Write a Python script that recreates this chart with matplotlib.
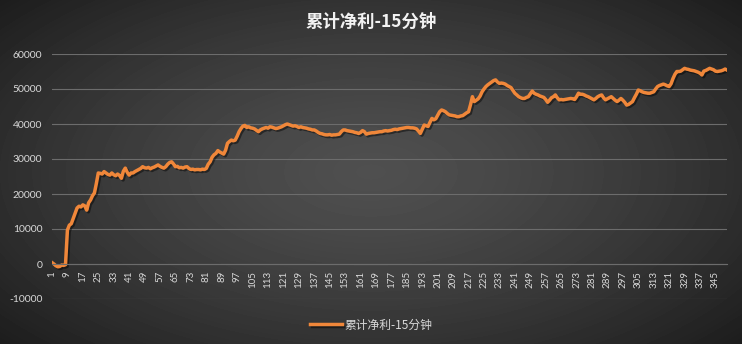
import numpy as np
import matplotlib
matplotlib.use("Agg")
import matplotlib.pyplot as plt
import matplotlib.patheffects as pe

title = "累计净利-15分钟"
series_name = "累计净利-15分钟"

# cumulative net profit, one value per 15-minute bar
profit = [
    400, 0, -500, -800, -700, -300, -400, -200, 9700, 11100,
    11500, 13000, 14500, 16000, 16500, 16300, 16900, 16600, 15400, 17500,
    18300, 19500, 20300, 23000, 26000, 25900, 25700, 26400, 26000, 25600,
    25400, 26000, 25500, 25200, 25700, 25300, 24500, 26500, 27400, 26200,
    25400, 26000, 26000, 26400, 26700, 27000, 27300, 27800, 27500, 27400,
    27600, 27200, 27500, 27700, 28000, 28300, 27900, 27600, 27400, 27800,
    28500, 29000, 29200, 28600, 27800, 27900, 27500, 27600, 27400, 27700,
    27800, 27300, 27000, 27100, 26900, 27000, 27000, 26900, 27100, 27000,
    27300, 28500, 29200, 30500, 31200, 31600, 32400, 32000, 31700, 31400,
    32500, 34500, 35000, 35400, 35200, 35400, 36500, 37800, 38700, 39400,
    39600, 39000, 39200, 38900, 38800, 38600, 38200, 37800, 38300, 38600,
    38800, 39000, 38800, 39200, 39100, 38900, 38700, 38800, 39000, 39200,
    39500, 39800, 40000, 39800, 39600, 39400, 39500, 39300, 39000, 39200,
    39000, 38900, 38800, 38600, 38500, 38300, 38300, 38000, 37600, 37300,
    37200, 37000, 36900, 36900, 37000, 36800, 36900, 36900, 37000, 37100,
    37800, 38300, 38300, 38100, 38000, 37900, 37800, 37600, 37500, 37300,
    37600, 38100, 37800, 37100, 37300, 37400, 37500, 37500, 37600, 37700,
    37800, 37800, 38000, 38100, 38000, 38100, 38200, 38400, 38500, 38400,
    38600, 38700, 38800, 38900, 39000, 39000, 38900, 38900, 38800, 38600,
    38000, 37300, 38500, 39700, 39500, 39300, 40500, 41600, 41200, 41500,
    42500, 43500, 44000, 43800, 43500, 43000, 42600, 42500, 42400, 42300,
    42100, 42100, 42300, 42400, 42800, 43200, 43500, 45500, 47800, 46400,
    46800, 47200, 48000, 49200, 50000, 50700, 51200, 51600, 52000, 52400,
    52600, 52000, 51600, 51700, 51600, 51400, 51000, 50700, 50400, 49600,
    48800, 48300, 47800, 47500, 47300, 47300, 47600, 47800, 48600, 49400,
    48800, 48500, 48300, 48000, 47800, 47600, 47000, 46200, 46800, 47500,
    47800, 48300, 47500, 46900, 47000, 46900, 47000, 47100, 47200, 47300,
    47200, 47000, 47800, 48800, 48500, 48500, 48300, 48000, 47800, 47500,
    47200, 46900, 47300, 47800, 48100, 48300, 47500, 46900, 47200, 47500,
    47800, 47300, 46800, 46400, 46800, 47300, 46800, 46200, 45400, 45600,
    46000, 46400, 47500, 48500, 49700, 49500, 49200, 49000, 48900, 48800,
    48800, 49000, 49200, 50000, 50700, 51000, 51200, 51400, 51200, 50900,
    50700, 51500, 53000, 54200, 55000, 55000, 55100, 55500, 55900, 55700,
    55600, 55400, 55300, 55200, 55000, 54800, 54500, 54000, 55100, 55300,
    55600, 55900, 55700, 55500, 55100, 55000, 55100, 55200, 55400, 55700,
    55400,
]
periods = list(range(1, len(profit) + 1))
x_ticks = periods[::8]
y_ticks = list(range(-10000, 60001, 10000))

plt.rcParams["font.family"] = ["Lato", "Noto Sans CJK SC", "DejaVu Sans"]

W, H = 742, 344
fig = plt.figure(figsize=(W / 100, H / 100), dpi=100)

# dark radial background like the excel style
bg = fig.add_axes([0, 0, 1, 1], zorder=-10)
yy, xx = np.mgrid[-1:1:H * 1j, -1:1:W * 1j]
r = np.sqrt(xx ** 2 + (yy * 0.9) ** 2)
shade = 0.31 - 0.13 * np.clip(r, 0, 1.35) ** 1.4
bg.imshow(shade, cmap="gray", vmin=0, vmax=1, aspect="auto",
          extent=[0, 1, 0, 1], interpolation="bilinear")
bg.axis("off")

ax = fig.add_axes([52 / W, 1 - 299 / H, (727 - 52) / W, (299 - 54) / H])
ax.patch.set_alpha(0)

ax.plot(periods, profit, color="#f0873a", lw=2.5, solid_joinstyle="round",
        label=series_name,
        path_effects=[pe.SimpleLineShadow(offset=(1.2, -1.2), shadow_color="black", alpha=0.45),
                      pe.Normal()])

ax.set_xlim(1, len(profit))
ax.set_ylim(-10000, 60000)
ax.set_yticks(y_ticks)
ax.set_yticklabels([str(v) for v in y_ticks])
ax.set_xticks(x_ticks)
ax.set_xticklabels([str(v) for v in x_ticks])
ax.grid(axis="y", color="#6c6c6c", lw=0.8)
ax.set_axisbelow(True)

for s in ["top", "right", "left"]:
    ax.spines[s].set_visible(False)
ax.spines["bottom"].set_position(("data", 0))
ax.spines["bottom"].set_color("#6c6c6c")
ax.spines["bottom"].set_linewidth(0.8)

ax.tick_params(axis="both", length=0, colors="#d9d9d9", labelsize=7.5)
ax.tick_params(axis="y", pad=7)
ax.tick_params(axis="x", pad=5, labelrotation=90, labelsize=7)

fig.text(0.5, 1 - 22 / H, title, ha="center", va="center", fontsize=12.5,
         color="#f2f2f2", weight="bold", family=["Noto Sans CJK SC", "DejaVu Sans"])

leg = fig.legend(loc="center", bbox_to_anchor=(0.5, 1 - 325 / H), frameon=False,
                 handlelength=2.7, handletextpad=0.2,
                 prop={"family": ["Noto Sans CJK SC", "DejaVu Sans"], "size": 8.5})
for t in leg.get_texts():
    t.set_color("#d9d9d9")

fig.savefig("out.png", dpi=100)
